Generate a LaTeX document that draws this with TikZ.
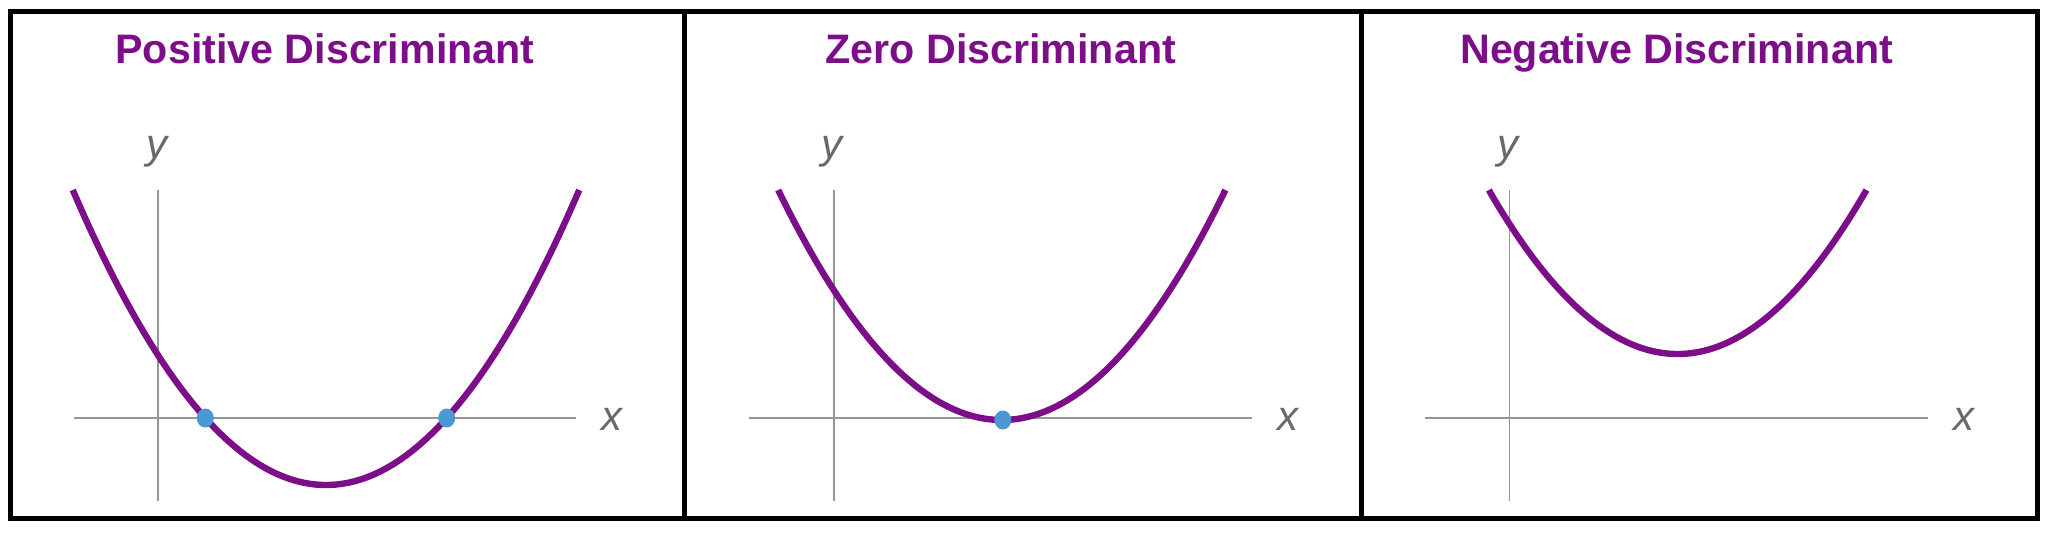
\documentclass[tikz,border=0pt]{standalone}
\usepackage{fontspec}
\setmainfont{Liberation Sans}
\usepackage{xcolor}
\definecolor{mypurple}{RGB}{125,14,138}
\definecolor{myblue}{RGB}{74,152,212}
\definecolor{axisgray}{RGB}{150,150,150}
\definecolor{labelgray}{RGB}{105,105,105}

\begin{document}
\begin{tikzpicture}[x=0.5pt,y=-0.5pt,
    titletext/.style={text=mypurple,font=\bfseries\fontsize{20.6}{20.6}\selectfont,anchor=base,inner sep=0pt},
    axislabel/.style={text=labelgray,font=\itshape\fontsize{21}{21}\selectfont,anchor=base,inner sep=0pt},
    axisline/.style={axisgray,line width=0.75pt},
    parabola/.style={mypurple,line width=3.2pt},
    rootdot/.style={fill=myblue}]
    \useasboundingbox (0,0) rectangle (2048,532);
    %Notation: {title of the panel, depth of the vertex}
    %NOTE! Everything is zero-based
    \def\panelInfo{{
        {"Positive Discriminant",485},
        {"Zero Discriminant",420},
        {"Negative Discriminant",354},
    }}
    \pgfmathsetmacro{\last}{2}% Zero based.

    % Loop through the three panels
    \foreach \i in {0, ..., \last}{
        \pgfmathsetmacro{\xo}{10+675.8*\i}% Left edge of the panel
        \pgfmathsetmacro{\panelTitle}{\panelInfo[\i][0]}% Get the title
        \pgfmathsetmacro{\vy}{\panelInfo[\i][1]}% Get the vertex depth
        \pgfmathsetmacro{\hw}{14.744*sqrt(\vy-190)}% Half width of the curve
        \begin{scope}[shift={(\xo,0)}]
            \node[titletext] (title\i) at (315,63) {\panelTitle};
            \coordinate (xl\i) at (63.5,418);
            \coordinate (xr\i) at (566,418);
            \coordinate (yt\i) at (148,190);
            \coordinate (yb\i) at (148,501);
            \draw[axisline] (xl\i) -- (xr\i);% Draw x axis
            \draw[axisline] (yt\i) -- (yb\i);% Draw y axis
            \node[axislabel] (ylab\i) at (146.5,158) {y};
            \node[axislabel] (xlab\i) at (602,430) {x};
            \draw[parabola] plot[domain=-\hw:\hw,samples=80] ({316+\x},{\vy-(\x/14.744)^2});
            \ifnum \i=0 % Two roots
                \fill[rootdot] (195.3,418) ellipse [x radius=8.5,y radius=9.5];
                \fill[rootdot] (436.7,418) ellipse [x radius=8.5,y radius=9.5];
            \fi
            \ifnum \i=1 % One root
                \fill[rootdot] (317,420) ellipse [x radius=8.5,y radius=9.5];
            \fi
        \end{scope}
    }
    % Draw the frame with the dividers
    \coordinate (tl) at (10,11.5);
    \coordinate (br) at (2037.5,518);
    \draw[line width=2.5pt] (tl) rectangle (br);
    \draw[line width=2.5pt] (684.5,11.5) -- (684.5,518);
    \draw[line width=2.5pt] (1361,11.5) -- (1361,518);
\end{tikzpicture}
\end{document}
